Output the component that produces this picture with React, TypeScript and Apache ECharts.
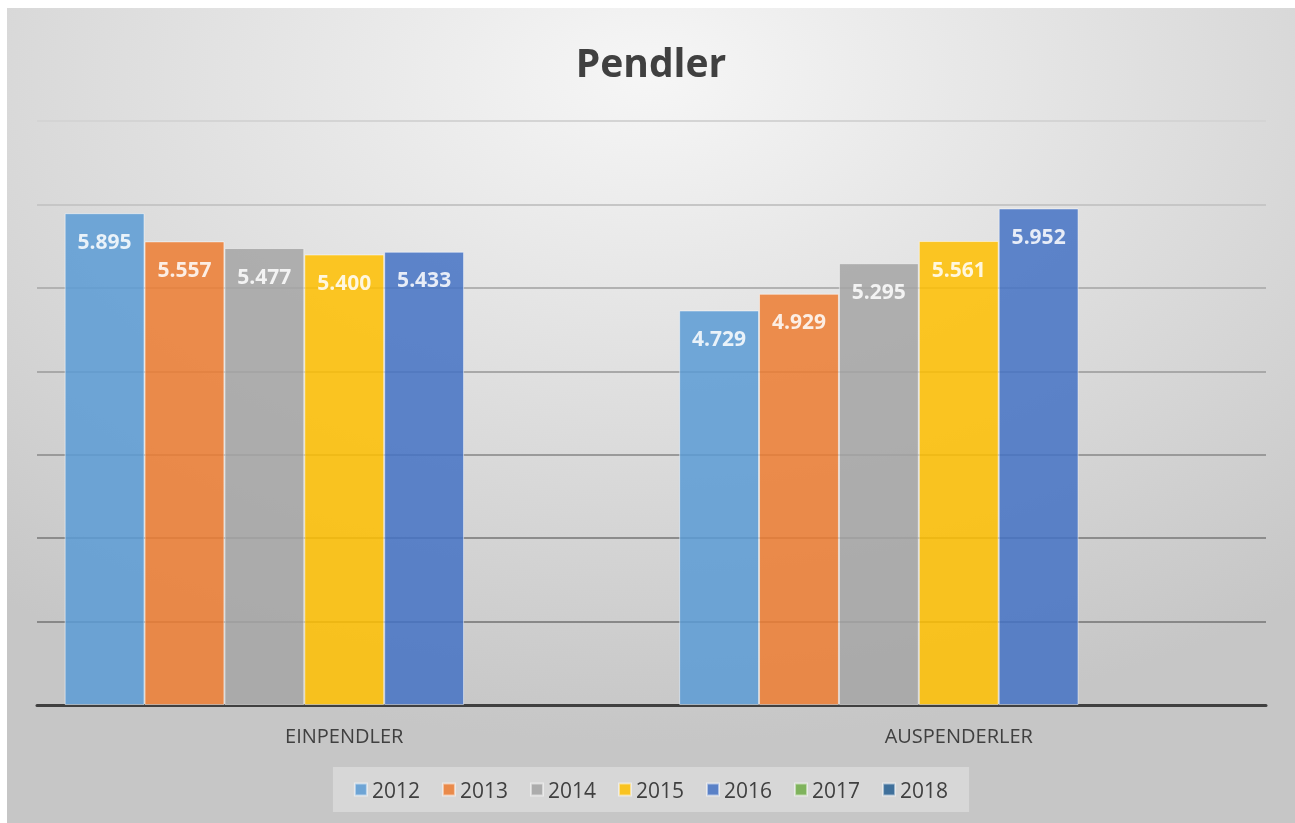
import React, { useEffect, useRef } from "react";
import * as echarts from "echarts";

const categories = ["EINPENDLER", "AUSPENDERLER"];
const years = ["2012", "2013", "2014", "2015", "2016", "2017", "2018"];
const values2012 = [5895, 4729];
const values2013 = [5557, 4929];
const values2014 = [5477, 5295];
const values2015 = [5400, 5561];
const values2016 = [5433, 5952];
const values2017: (number | null)[] = [null, null];
const values2018: (number | null)[] = [null, null];
const seriesValues = [values2012, values2013, values2014, values2015, values2016, values2017, values2018];
const colors = ["#5B9BD5", "#ED7D31", "#A5A5A5", "#FFC000", "#4472C4", "#70AD47", "#255E91"];
const gridColors = ["#888888", "#888888", "#8c8c8c", "#9a9a9a", "#a8a8a8", "#b2b2b2", "#c6c6c6", "#d4d4d4"];

const FONT = "'Open Sans', 'Noto Sans', sans-serif";

export default function App() {
  const ref = useRef<HTMLDivElement>(null);
  useEffect(() => {
    if (!ref.current) return;
    const chart = echarts.init(ref.current, undefined, { renderer: "svg" });
    chart.setOption({
      animation: false,
      backgroundColor: {
        type: "radial",
        x: 0.5,
        y: 0.08,
        r: 0.82,
        colorStops: [
          { offset: 0, color: "#f6f6f6" },
          { offset: 1, color: "#c6c6c6" },
        ],
      },
      title: {
        text: "Pendler",
        left: "center",
        top: 29,
        textStyle: { fontFamily: FONT, fontSize: 39, fontWeight: "bold", color: "#404040" },
      },
      legend: {
        data: years,
        left: "center",
        top: 759,
        padding: [12, 21],
        itemGap: 22,
        itemWidth: 12,
        itemHeight: 12,
        icon: "rect",
        backgroundColor: "rgba(255,255,255,0.3)",
        textStyle: { fontFamily: FONT, fontSize: 21, color: "#404040" },
      },
      grid: { left: 30, right: 29, top: 113, bottom: 118, containLabel: false },
      xAxis: {
        type: "category",
        data: categories,
        axisLine: { lineStyle: { color: "#404040", width: 3 } },
        axisTick: { show: false },
        axisLabel: { fontFamily: FONT, fontSize: 20, color: "#404040", margin: 20 },
      },
      yAxis: {
        type: "value",
        min: 0,
        max: 7000,
        interval: 1000,
        axisLabel: { show: false },
        axisLine: { show: false },
        axisTick: { show: false },
        splitLine: { lineStyle: { color: gridColors, width: 2 } },
      },
      series: years.map((y, i) => ({
        name: y,
        type: "bar",
        data: seriesValues[i],
        barGap: "0%",
        barCategoryGap: "9%",
        itemStyle: {
          color: colors[i],
          opacity: 0.85,
          borderColor: "rgba(255,255,255,0.6)",
          borderWidth: 1,
        },
        label: {
          show: true,
          position: "insideTop",
          distance: 17,
          fontFamily: FONT,
          fontSize: 21,
          fontWeight: "bold",
          color: "#ffffff",
          formatter: (p: any) => (p.value == null ? "" : (p.value / 1000).toFixed(3)),
        },
      })),
    });
    return () => chart.dispose();
  }, []);
  return (
    <div
      ref={ref}
      style={{ position: "fixed", left: 7, top: 8, width: 1288, height: 815 }}
    />
  );
}
